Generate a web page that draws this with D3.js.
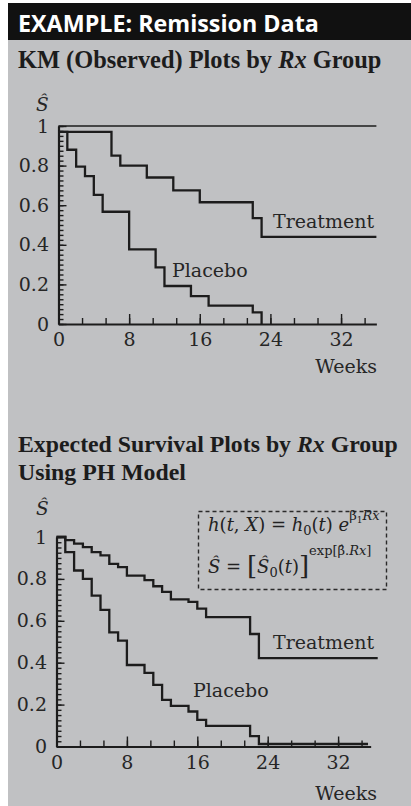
<!DOCTYPE html>
<html>
<head>
<meta charset="utf-8">
<script src="https://cdn.jsdelivr.net/npm/d3@7/dist/d3.min.js"></script>
<style>
  body { margin: 0; background: #fff; }
  svg { display: block; }
</style>
</head>
<body>
<svg id="fig" width="411" height="806"></svg>
<script>
// ---- Remission data: survival estimates by treatment group ----
const weekTicks = [0, 8, 16, 24, 32];
const survTicks = [0, 0.2, 0.4, 0.6, 0.8, 1];
const groupLabels = ["Treatment", "Placebo"];

// Kaplan-Meier (observed) step curves
const kmTreatTimes = [0, 6, 7, 10, 13, 16, 22, 23, 36];
const kmTreatSurv  = [0.97, 0.85, 0.80, 0.74, 0.675, 0.615, 0.535, 0.44, 0.44];
const kmPlaceboTimes = [0, 1, 2, 3, 4, 5, 8, 11, 12, 15, 17, 22, 23];
const kmPlaceboSurv  = [0.97, 0.88, 0.795, 0.747, 0.652, 0.567, 0.377, 0.286, 0.192, 0.141, 0.093, 0.059, 0];

// Expected survival from the PH model (steps at every event time)
const phTimes       = [0, 1, 2, 3, 4, 5, 6, 7, 8, 10, 11, 12, 13, 15, 16, 17, 22, 23];
const phTreatSurv   = [1, 0.985, 0.968, 0.952, 0.928, 0.912, 0.872, 0.856, 0.816, 0.794, 0.765, 0.738, 0.702, 0.69, 0.658, 0.618, 0.537, 0.422];
const phPlaceboSurv = [1, 0.928, 0.84, 0.80, 0.72, 0.652, 0.545, 0.505, 0.389, 0.351, 0.294, 0.223, 0.194, 0.167, 0.127, 0.098, 0.05, 0.012];
const phTreatEnd = 36.5;
const phPlaceboEnd = 35.4;

const INK = "#1c1c1c";
const BG = "#c0c1c3";
const SERIF = "'DejaVu Serif', serif";
const TITLE_SERIF = "'Liberation Serif', 'Times New Roman', serif";

const svg = d3.select("#fig");

// page background and header band
svg.append("rect").attr("x", 8).attr("y", 3).attr("width", 403).attr("height", 803).attr("fill", BG);
svg.append("rect").attr("x", 8).attr("y", 3).attr("width", 403).attr("height", 37).attr("fill", "#111");
svg.append("text").attr("x", 18).attr("y", 31.5)
  .attr("fill", "#fff").attr("font-family", "'Open Sans', sans-serif")
  .attr("font-weight", 700).attr("font-size", 23.3)
  .text("EXAMPLE: Remission Data");

function title(lines, y0, lh, sizes) {
  lines.forEach((parts, i) => {
    const t = svg.append("text").attr("x", 18).attr("y", y0 + i * lh)
      .attr("fill", INK).attr("font-family", TITLE_SERIF)
      .attr("font-weight", 700).attr("font-size", sizes[i]);
    parts.forEach(p => t.append("tspan").attr("font-style", p.it ? "italic" : null).text(p.s));
  });
}

title([[{s: "KM (Observed) Plots by "}, {s: "Rx", it: true}, {s: " Group"}]], 68, 0, [24.4]);
title([[{s: "Expected Survival Plots by "}, {s: "Rx", it: true}, {s: " Group"}],
       [{s: "Using PH Model"}]], 451.5, 28.5, [23.8, 23.8]);

function stepSeries(times, surv, endT) {
  const pts = times.map((t, i) => ({t, s: surv[i]}));
  if (endT !== undefined) pts.push({t: endT, s: surv[surv.length - 1]});
  return pts;
}

function panel(cfg) {
  const x = d3.scaleLinear().domain([0, cfg.axisEnd]).range([cfg.x0, cfg.x0 + cfg.axisEnd * cfg.pxWeek]);
  const y = d3.scaleLinear().domain([0, 1]).range([cfg.y0, cfg.y1]);
  const g = svg.append("g");

  // x axis: minor ticks every 8/3 weeks, major every 8, all pointing up
  const minorX = d3.range(0, cfg.axisEnd, 8 / 3);
  const xMinor = g.append("g").attr("transform", `translate(0,${y(0)})`)
    .call(d3.axisBottom(x).tickValues(minorX).tickSize(-6).tickSizeOuter(0).tickFormat(""));
  const xMajor = g.append("g").attr("transform", `translate(0,${y(0)})`)
    .call(d3.axisBottom(x).tickValues(weekTicks).tickSize(-10).tickSizeOuter(0).tickPadding(9).tickFormat(d => String(d)));
  xMajor.select(".domain").remove();

  // y axis: minor ticks every 0.025, major every 0.2, pointing right
  const minorY = d3.range(0, 1.0001, 0.025);
  const yMinor = g.append("g").attr("transform", `translate(${x(0)},0)`)
    .call(d3.axisLeft(y).tickValues(minorY).tickSize(-5).tickSizeOuter(0).tickFormat(""));
  const yMajor = g.append("g").attr("transform", `translate(${x(0)},0)`)
    .call(d3.axisLeft(y).tickValues(survTicks).tickSize(-8).tickSizeOuter(0).tickPadding(9.5).tickFormat(d => String(d)));
  yMajor.select(".domain").remove();

  [xMinor, xMajor, yMinor, yMajor].forEach(a => {
    a.selectAll("path, line").attr("stroke", INK);
    a.select(".domain").attr("stroke-width", 2.2);
    a.selectAll(".tick line").attr("stroke-width", 1.4);
    a.selectAll("text").attr("fill", "#262626").attr("font-family", SERIF).attr("font-size", 19);
  });

  // S-hat axis title and time label
  g.append("text").attr("x", 36).attr("y", cfg.sLabelY)
    .attr("font-family", SERIF).attr("font-style", "italic").attr("font-size", 18.5)
    .attr("fill", "#262626").text("Ŝ");
  g.append("text").attr("x", 377).attr("y", cfg.weeksY).attr("text-anchor", "end")
    .attr("font-family", SERIF).attr("font-size", 19).attr("fill", "#262626").text("Weeks");

  if (cfg.topLine) {
    g.append("line").attr("x1", x(0)).attr("x2", x(cfg.axisEnd))
      .attr("y1", y(1)).attr("y2", y(1)).attr("stroke", INK).attr("stroke-width", 1.6);
  }

  const line = d3.line().x(d => x(d.t)).y(d => y(d.s)).curve(d3.curveStepAfter);
  cfg.series.forEach(sr => {
    g.append("path").datum(sr.pts).attr("d", line)
      .attr("fill", "none").attr("stroke", INK).attr("stroke-width", 2.3)
      .attr("stroke-linejoin", "miter");
  });
  cfg.labels.forEach(l => {
    g.append("text").attr("x", l.x).attr("y", l.y)
      .attr("font-family", SERIF).attr("font-size", 19).attr("fill", "#262626").text(l.text);
  });
  return {x, y, g};
}

panel({
  x0: 58.5, pxWeek: 8.83, axisEnd: 36, y0: 324, y1: 126,
  sLabelY: 110.5, weeksY: 373, topLine: true,
  series: [
    {pts: stepSeries(kmTreatTimes, kmTreatSurv)},
    {pts: stepSeries(kmPlaceboTimes, kmPlaceboSurv)}
  ],
  labels: [
    {text: groupLabels[0], x: 273, y: 227.5},
    {text: groupLabels[1], x: 172, y: 276.5}
  ]
});

panel({
  x0: 56.5, pxWeek: 8.8, axisEnd: 35.7, y0: 746.5, y1: 537,
  sLabelY: 515, weeksY: 800, topLine: false,
  series: [
    {pts: stepSeries(phTimes, phTreatSurv, phTreatEnd)},
    {pts: stepSeries(phTimes, phPlaceboSurv, phPlaceboEnd)}
  ],
  labels: [
    {text: groupLabels[0], x: 273, y: 648.5},
    {text: groupLabels[1], x: 193, y: 696.5}
  ]
});

// model formula box
const box = svg.append("g");
box.append("rect").attr("x", 198.5).attr("y", 511.5).attr("width", 188).attr("height", 78)
  .attr("fill", "none").attr("stroke", "#2a2a2a").attr("stroke-width", 1.4)
  .attr("stroke-dasharray", "4,3");

const f1 = box.append("text").attr("x", 208).attr("y", 531)
  .attr("font-family", SERIF).attr("font-size", 18).attr("fill", "#222");
f1.append("tspan").attr("font-style", "italic").text("h");
f1.append("tspan").text("(");
f1.append("tspan").attr("font-style", "italic").text("t");
f1.append("tspan").text(", ");
f1.append("tspan").attr("font-style", "italic").text("X");
f1.append("tspan").text(") = ");
f1.append("tspan").attr("font-style", "italic").text("h");
f1.append("tspan").attr("font-size", 13).attr("dy", 4).text("0");
f1.append("tspan").attr("dy", -4).text("(");
f1.append("tspan").attr("font-style", "italic").text("t");
f1.append("tspan").text(") ");
f1.append("tspan").attr("font-style", "italic").text("e");
f1.append("tspan").attr("font-size", 13).attr("dy", -11).text("β");
f1.append("tspan").attr("font-size", 9).attr("dy", 3).text("1");
f1.append("tspan").attr("font-size", 13).attr("font-style", "italic").attr("dy", -3).text("Rx");

const f2 = box.append("text").attr("x", 208).attr("y", 573)
  .attr("font-family", SERIF).attr("font-size", 18).attr("fill", "#222");
f2.append("tspan").attr("font-style", "italic").text("Ŝ");
f2.append("tspan").text(" = ");
f2.append("tspan").attr("font-size", 26).attr("dy", 2).text("[");
f2.append("tspan").attr("font-style", "italic").attr("dy", -2).text("Ŝ");
f2.append("tspan").attr("font-size", 13).attr("dy", 4).text("0");
f2.append("tspan").attr("dy", -4).text("(");
f2.append("tspan").attr("font-style", "italic").text("t");
f2.append("tspan").text(")");
f2.append("tspan").attr("font-size", 26).attr("dy", 2).text("]");
f2.append("tspan").attr("font-size", 13).attr("dy", -20).text("exp[β̂");
f2.append("tspan").attr("font-size", 13).text(".");
f2.append("tspan").attr("font-size", 13).attr("font-style", "italic").text("Rx");
f2.append("tspan").attr("font-size", 13).text("]");
</script>
</body>
</html>
